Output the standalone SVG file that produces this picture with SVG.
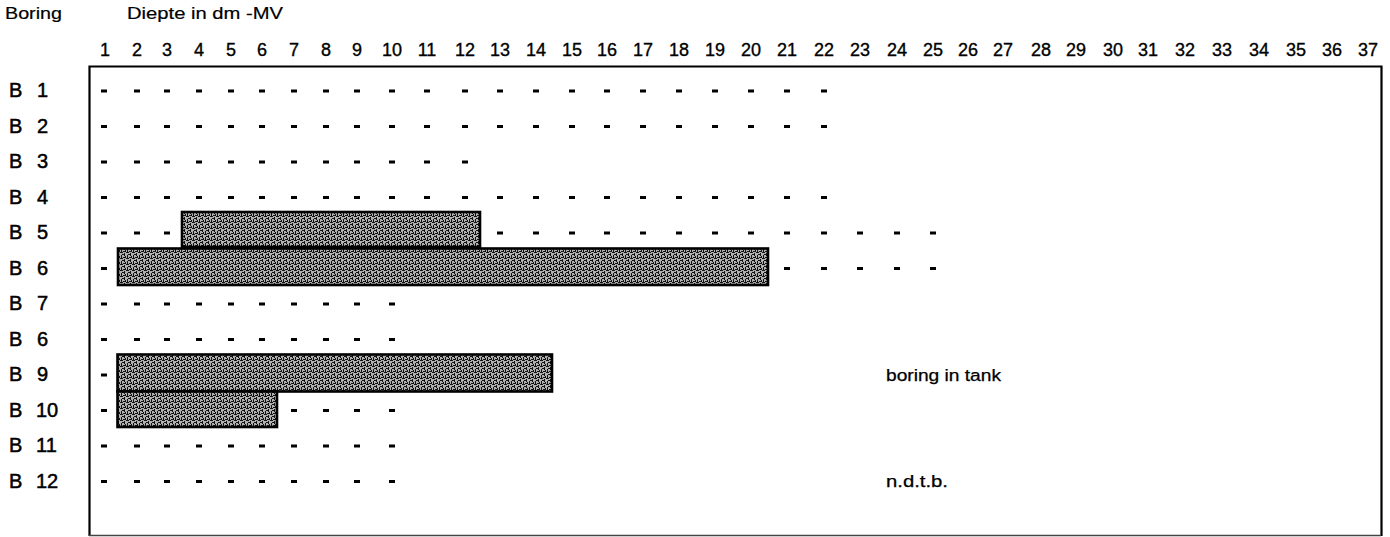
<svg xmlns="http://www.w3.org/2000/svg" width="1390" height="537" viewBox="0 0 1390 537">
<defs>
<style>
text{font-family:"Liberation Sans",Arial,sans-serif;fill:#000}
.hdr{font-size:17px;stroke:#000;stroke-width:0.2}
.num{font-size:18px;text-anchor:middle;stroke:#000;stroke-width:0.35}
.lbl{font-size:20px;stroke:#000;stroke-width:0.5}
.note{font-size:16px;stroke:#000;stroke-width:0.25}
.dash{fill:none;stroke:#000;stroke-width:3}
.bar{fill:url(#maze);stroke:#000;stroke-width:2.6}
.frame{fill:none;stroke:#000;stroke-width:2.2}
</style>
<pattern id="maze" width="6" height="6" patternUnits="userSpaceOnUse">
<rect width="6" height="6" fill="#b0b0b0"/>
<path d="M0 0h3v1h-3zM4 1h1v3h-1zM1 3h1v3h-1zM3 5h3v1h-3zM2 2h2v1h-2zM5 4h1v1h-1z" fill="#111"/>
</pattern>
</defs>
<rect width="1390" height="537" fill="#fff"/>

<g id="header">
<text class="hdr" x="5" y="19" textLength="57" lengthAdjust="spacingAndGlyphs">Boring</text>
<text class="hdr" x="127" y="19" textLength="156" lengthAdjust="spacingAndGlyphs">Diepte in dm -MV</text>
</g>

<g id="columns">
<text class="num" x="105" y="56">1</text>
<text class="num" x="137" y="56">2</text>
<text class="num" x="167" y="56">3</text>
<text class="num" x="199" y="56">4</text>
<text class="num" x="231" y="56">5</text>
<text class="num" x="262" y="56">6</text>
<text class="num" x="294" y="56">7</text>
<text class="num" x="326" y="56">8</text>
<text class="num" x="357" y="56">9</text>
<text class="num" x="392" y="56">10</text>
<text class="num" x="427" y="56">11</text>
<text class="num" x="465" y="56">12</text>
<text class="num" x="500" y="56">13</text>
<text class="num" x="536" y="56">14</text>
<text class="num" x="572" y="56">15</text>
<text class="num" x="607" y="56">16</text>
<text class="num" x="643" y="56">17</text>
<text class="num" x="679" y="56">18</text>
<text class="num" x="715" y="56">19</text>
<text class="num" x="751" y="56">20</text>
<text class="num" x="787" y="56">21</text>
<text class="num" x="824" y="56">22</text>
<text class="num" x="860" y="56">23</text>
<text class="num" x="897" y="56">24</text>
<text class="num" x="933" y="56">25</text>
<text class="num" x="968" y="56">26</text>
<text class="num" x="1003" y="56">27</text>
<text class="num" x="1041" y="56">28</text>
<text class="num" x="1076" y="56">29</text>
<text class="num" x="1113" y="56">30</text>
<text class="num" x="1148" y="56">31</text>
<text class="num" x="1185" y="56">32</text>
<text class="num" x="1222" y="56">33</text>
<text class="num" x="1259" y="56">34</text>
<text class="num" x="1296" y="56">35</text>
<text class="num" x="1332" y="56">36</text>
<text class="num" x="1368" y="56">37</text>
</g>

<g id="frame">
<path class="frame" d="M89.5 536V66.5H1381.5V536"/>
<path d="M89 535.5H1381" fill="none" stroke="#444" stroke-width="1.6"/>
</g>

<g id="B1">
<text class="lbl" x="9" y="97">B <tspan x="37">1</tspan></text>
<path class="dash" d="M101 91h6M134 91h6M164 91h6M196 91h6M228 91h6M259 91h6M291 91h6M323 91h6M354 91h6M389 91h6M424 91h6M462 91h6M497 91h6M533 91h6M569 91h6M604 91h6M640 91h6M676 91h6M712 91h6M748 91h6M784 91h6M821 91h6"/>
</g>
<g id="B2">
<text class="lbl" x="9" y="132.5">B <tspan x="37">2</tspan></text>
<path class="dash" d="M101 126.5h6M134 126.5h6M164 126.5h6M196 126.5h6M228 126.5h6M259 126.5h6M291 126.5h6M323 126.5h6M354 126.5h6M389 126.5h6M424 126.5h6M462 126.5h6M497 126.5h6M533 126.5h6M569 126.5h6M604 126.5h6M640 126.5h6M676 126.5h6M712 126.5h6M748 126.5h6M784 126.5h6M821 126.5h6"/>
</g>
<g id="B3">
<text class="lbl" x="9" y="168">B <tspan x="37">3</tspan></text>
<path class="dash" d="M101 162h6M134 162h6M164 162h6M196 162h6M228 162h6M259 162h6M291 162h6M323 162h6M354 162h6M389 162h6M424 162h6M462 162h6"/>
</g>
<g id="B4">
<text class="lbl" x="9" y="203.5">B <tspan x="37">4</tspan></text>
<path class="dash" d="M101 197.5h6M134 197.5h6M164 197.5h6M196 197.5h6M228 197.5h6M259 197.5h6M291 197.5h6M323 197.5h6M354 197.5h6M389 197.5h6M424 197.5h6M462 197.5h6M497 197.5h6M533 197.5h6M569 197.5h6M604 197.5h6M640 197.5h6M676 197.5h6M712 197.5h6M748 197.5h6M784 197.5h6M821 197.5h6"/>
</g>
<g id="B5">
<text class="lbl" x="9" y="239">B <tspan x="37">5</tspan></text>
<path class="dash" d="M101 233h6M134 233h6M164 233h6M497 233h6M533 233h6M569 233h6M604 233h6M640 233h6M676 233h6M712 233h6M748 233h6M784 233h6M821 233h6M857 233h6M894 233h6M930 233h6"/>
<rect class="bar" x="182" y="212" width="298" height="35"/>
</g>
<g id="B6">
<text class="lbl" x="9" y="274.5">B <tspan x="37">6</tspan></text>
<path class="dash" d="M101 268.5h6M784 268.5h6M821 268.5h6M857 268.5h6M894 268.5h6M930 268.5h6"/>
<rect class="bar" x="118" y="248.5" width="650" height="36.5"/>
</g>
<g id="B7">
<text class="lbl" x="9" y="310">B <tspan x="37">7</tspan></text>
<path class="dash" d="M101 304h6M134 304h6M164 304h6M196 304h6M228 304h6M259 304h6M291 304h6M323 304h6M354 304h6M389 304h6"/>
</g>
<g id="B8">
<text class="lbl" x="9" y="345.5">B <tspan x="37">6</tspan></text>
<path class="dash" d="M101 339.5h6M134 339.5h6M164 339.5h6M196 339.5h6M228 339.5h6M259 339.5h6M291 339.5h6M323 339.5h6M354 339.5h6M389 339.5h6"/>
</g>
<g id="B9">
<text class="lbl" x="9" y="381">B <tspan x="37">9</tspan></text>
<path class="dash" d="M101 375h6"/>
<rect class="bar" x="117.5" y="354.5" width="434.5" height="37"/>
</g>
<g id="B10">
<text class="lbl" x="9" y="416.5">B <tspan x="36">10</tspan></text>
<path class="dash" d="M101 410.5h6M291 410.5h6M323 410.5h6M354 410.5h6M389 410.5h6"/>
<rect class="bar" x="117.5" y="391.5" width="159.5" height="35.5"/>
</g>
<g id="B11">
<text class="lbl" x="9" y="452">B <tspan x="36">11</tspan></text>
<path class="dash" d="M101 446h6M134 446h6M164 446h6M196 446h6M228 446h6M259 446h6M291 446h6M323 446h6M354 446h6M389 446h6"/>
</g>
<g id="B12">
<text class="lbl" x="9" y="487.5">B <tspan x="36">12</tspan></text>
<path class="dash" d="M101 481.5h6M134 481.5h6M164 481.5h6M196 481.5h6M228 481.5h6M259 481.5h6M291 481.5h6M323 481.5h6M354 481.5h6M389 481.5h6"/>
</g>

<g id="notes">
<text class="note" x="886" y="381" textLength="115" lengthAdjust="spacingAndGlyphs">boring in tank</text>
<text class="note" x="886" y="487" textLength="62" lengthAdjust="spacingAndGlyphs">n.d.t.b.</text>
</g>
</svg>
